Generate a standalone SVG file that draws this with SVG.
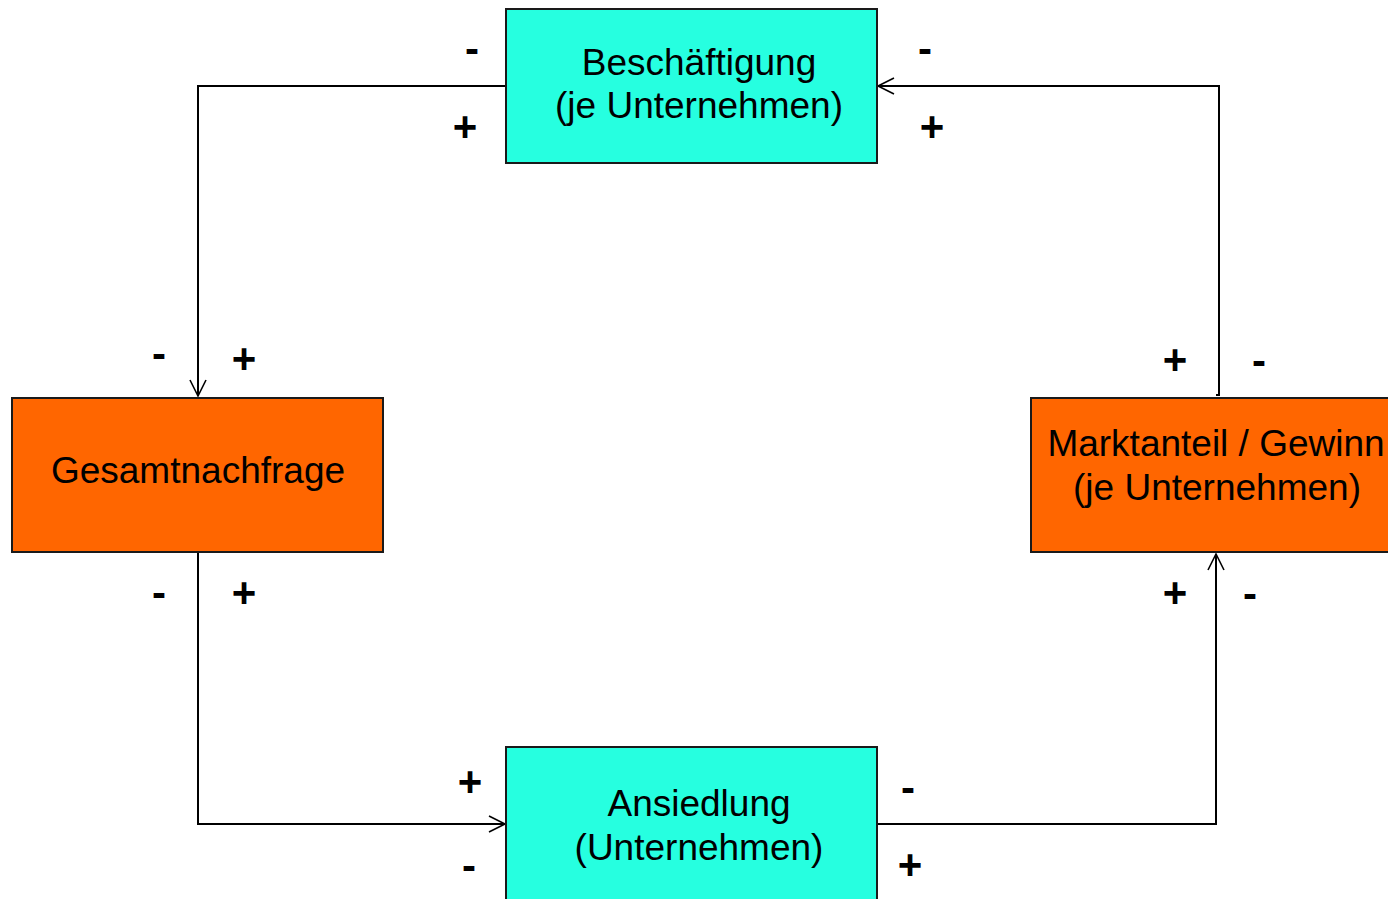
<svg xmlns="http://www.w3.org/2000/svg" width="1388" height="899" viewBox="0 0 1388 899">
<style>
.box{stroke:#1a1a1a;stroke-width:2}
.cyan{fill:#26FFE0}
.orange{fill:#FF6600}
.lbl{font-family:"Liberation Sans",Arial,sans-serif;font-size:37px;fill:#000;text-anchor:middle}
.sgn{font-family:"Liberation Sans",Arial,sans-serif;font-size:42px;font-weight:bold;fill:#000;text-anchor:middle}
.conn{fill:none;stroke:#000;stroke-width:2}
</style>
<defs>
<marker id="arr" markerUnits="userSpaceOnUse" markerWidth="20" markerHeight="20" viewBox="-18 -10 20 20" refX="0" refY="0" orient="auto">
<path d="M-16,-8 L0,0 L-16,8" fill="none" stroke="#000" stroke-width="1.6"/>
</marker>
</defs>
<rect width="1388" height="899" fill="#fff"/>
<g id="connectors">
<path class="conn" d="M506,86 L198,86 L198,396" marker-end="url(#arr)"/>
<path class="conn" d="M198,553 L198,824 L505,824" marker-end="url(#arr)"/>
<path class="conn" d="M878,824 L1216,824 L1216,554" marker-end="url(#arr)"/>
<path class="conn" d="M1216,395 L1219,395 L1219,86 L878,86" marker-end="url(#arr)"/>
</g>
<g id="node-beschaeftigung">
<rect class="box cyan" x="506" y="9" width="371" height="154"/>
<text class="lbl" x="699" y="75">Beschäftigung</text>
<text class="lbl" x="699" y="118">(je Unternehmen)</text>
</g>
<g id="node-gesamtnachfrage">
<rect class="box orange" x="12" y="398" width="371" height="154"/>
<text class="lbl" x="198" y="483">Gesamtnachfrage</text>
</g>
<g id="node-marktanteil">
<rect class="box orange" x="1031" y="398" width="370" height="154"/>
<text class="lbl" x="1216" y="456">Marktanteil / Gewinn</text>
<text class="lbl" x="1217" y="500">(je Unternehmen)</text>
</g>
<g id="node-ansiedlung">
<rect class="box cyan" x="506" y="747" width="371" height="170"/>
<text class="lbl" x="699" y="816">Ansiedlung</text>
<text class="lbl" x="699" y="860">(Unternehmen)</text>
</g>
<g id="signs">
<text class="sgn" x="472" y="63">-</text>
<text class="sgn" x="465" y="141">+</text>
<text class="sgn" x="925" y="63">-</text>
<text class="sgn" x="932" y="141">+</text>
<text class="sgn" x="159" y="368">-</text>
<text class="sgn" x="244" y="373">+</text>
<text class="sgn" x="159" y="607">-</text>
<text class="sgn" x="244" y="607">+</text>
<text class="sgn" x="1175" y="374">+</text>
<text class="sgn" x="1259" y="375">-</text>
<text class="sgn" x="1175" y="607">+</text>
<text class="sgn" x="1250" y="608">-</text>
<text class="sgn" x="470" y="796">+</text>
<text class="sgn" x="469" y="880">-</text>
<text class="sgn" x="908" y="802">-</text>
<text class="sgn" x="910" y="879">+</text>
</g>
</svg>
